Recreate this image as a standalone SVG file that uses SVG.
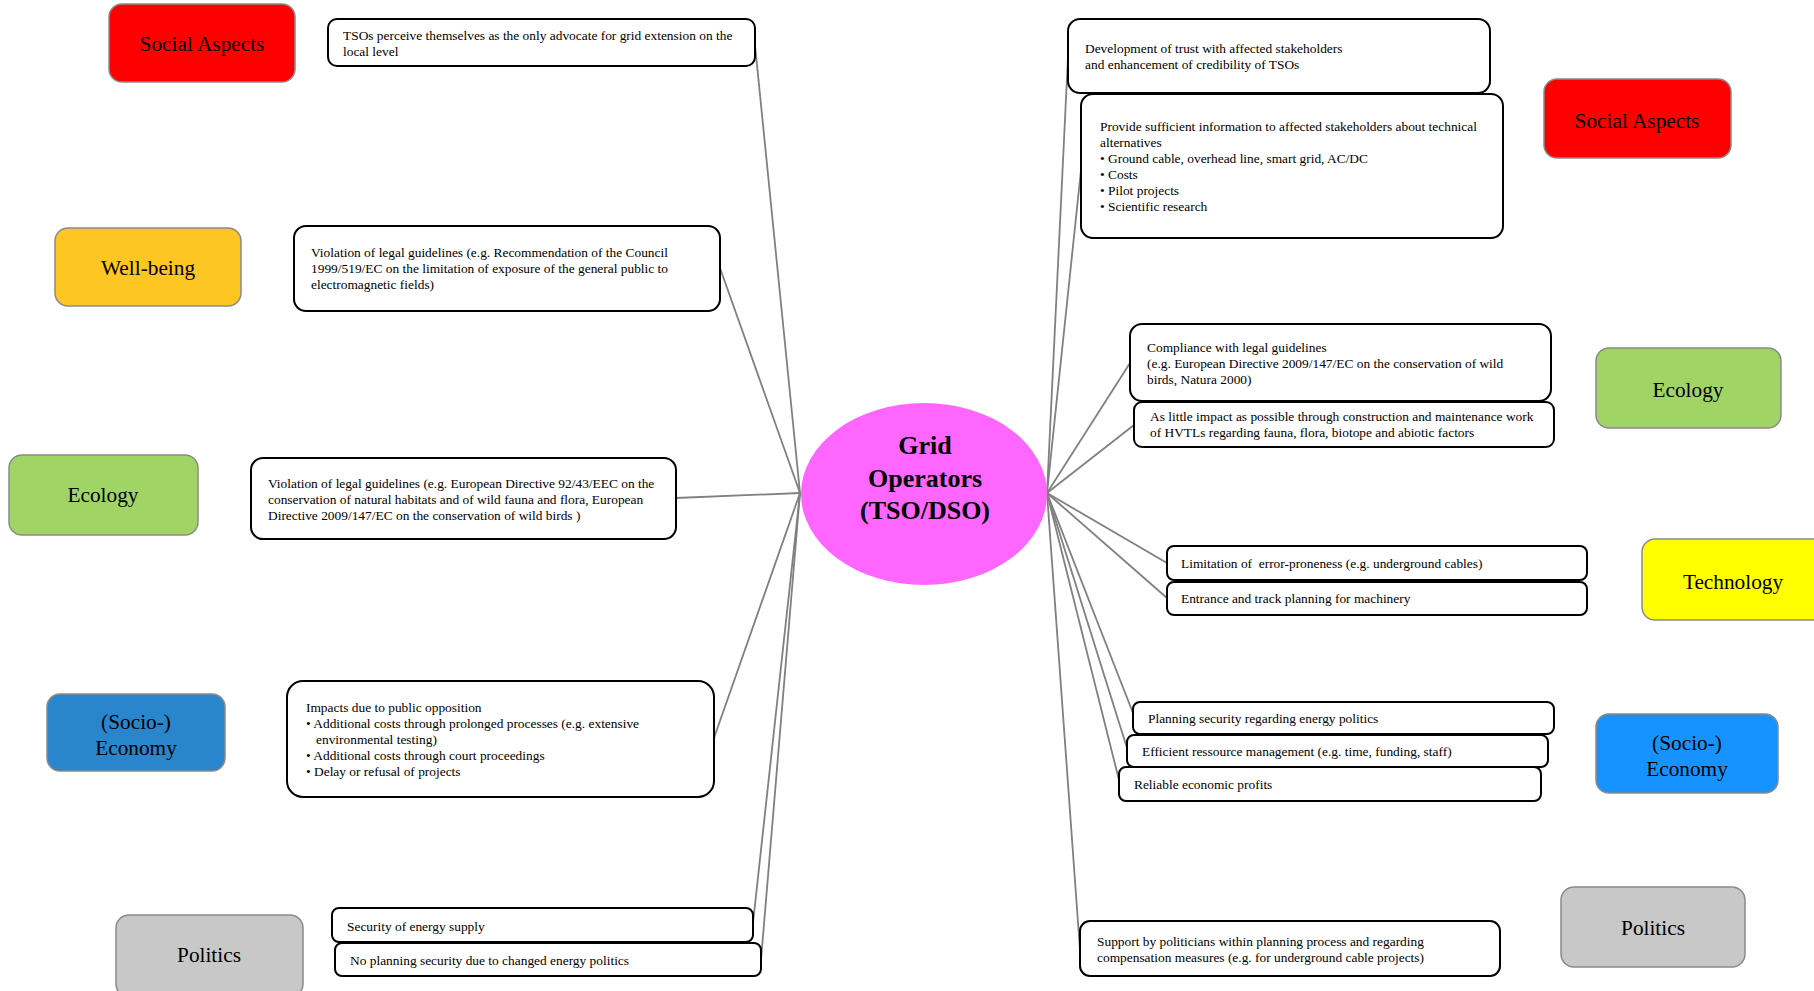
<svg xmlns="http://www.w3.org/2000/svg" width="1814" height="991" viewBox="0 0 1814 991">
<style>
.cat{stroke:#8a8a8a;stroke-width:1.5}
.ct{font-family:"Liberation Serif","Times New Roman",serif;font-size:21.3px;fill:#000;text-anchor:middle}
.box{fill:#fff;stroke:#000;stroke-width:2}
.t{font-family:"Liberation Serif","Times New Roman",serif;font-size:13.4px;fill:#000}
.hub{font-family:"Liberation Serif","Times New Roman",serif;font-size:26px;font-weight:bold;fill:#000;text-anchor:middle}
#connectors line{stroke:#808080;stroke-width:1.8}
</style>
<rect width="1814" height="991" fill="#fff"/>
<g id="connectors">
<line x1="800" y1="493" x2="755" y2="45"/>
<line x1="800" y1="493" x2="720" y2="268"/>
<line x1="800" y1="493" x2="676" y2="498"/>
<line x1="800" y1="493" x2="714" y2="738"/>
<line x1="800" y1="493" x2="753" y2="923"/>
<line x1="800" y1="493" x2="761" y2="960"/>
<line x1="1047" y1="493" x2="1068" y2="57"/>
<line x1="1047" y1="493" x2="1081" y2="170"/>
<line x1="1047" y1="493" x2="1130" y2="363"/>
<line x1="1047" y1="493" x2="1134" y2="425"/>
<line x1="1047" y1="493" x2="1167" y2="563"/>
<line x1="1047" y1="493" x2="1167" y2="598"/>
<line x1="1047" y1="493" x2="1133" y2="713"/>
<line x1="1047" y1="493" x2="1127" y2="748"/>
<line x1="1047" y1="493" x2="1119" y2="780"/>
<line x1="1047" y1="493" x2="1080" y2="950"/>
</g>
<g id="hub">
<ellipse cx="924" cy="494" rx="123" ry="91" fill="#ff66ff"/>
<text class="hub" x="925" y="454">Grid</text>
<text class="hub" x="925" y="487">Operators</text>
<text class="hub" x="925" y="519">(TSO/DSO)</text>
</g>
<g id="cat-social-left"><rect class="cat" x="109" y="4" width="186" height="78" rx="13" fill="#ff0000"/><text class="ct" x="202" y="51">Social Aspects</text></g>
<g id="cat-wellbeing"><rect class="cat" x="55" y="228" width="186" height="78" rx="13" fill="#fdc623"/><text class="ct" x="148" y="275">Well-being</text></g>
<g id="cat-ecology-left"><rect class="cat" x="9" y="455" width="189" height="80" rx="13" fill="#a0d566"/><text class="ct" x="103" y="502">Ecology</text></g>
<g id="cat-economy-left"><rect class="cat" x="47" y="694" width="178" height="77" rx="13" fill="#2a86cc"/><text class="ct" x="136" y="729">(Socio-)</text><text class="ct" x="136" y="755">Economy</text></g>
<g id="cat-politics-left"><rect class="cat" x="116" y="915" width="187" height="82" rx="13" fill="#c8c8c8"/><text class="ct" x="209" y="962">Politics</text></g>
<g id="cat-social-right"><rect class="cat" x="1544" y="79" width="187" height="79" rx="13" fill="#ff0000"/><text class="ct" x="1637" y="128">Social Aspects</text></g>
<g id="cat-ecology-right"><rect class="cat" x="1596" y="348" width="185" height="80" rx="13" fill="#a0d566"/><text class="ct" x="1688" y="397">Ecology</text></g>
<g id="cat-technology"><rect class="cat" x="1642" y="539" width="190" height="81" rx="13" fill="#ffff00"/><text class="ct" x="1733" y="589">Technology</text></g>
<g id="cat-economy-right"><rect class="cat" x="1596" y="714" width="182" height="79" rx="13" fill="#1693ff"/><text class="ct" x="1687" y="750">(Socio-)</text><text class="ct" x="1687" y="776">Economy</text></g>
<g id="cat-politics-right"><rect class="cat" x="1561" y="887" width="184" height="80" rx="13" fill="#c8c8c8"/><text class="ct" x="1653" y="935">Politics</text></g>
<g id="n-tsos"><rect class="box" x="328" y="19" width="427" height="47" rx="9"/><text class="t" x="343" y="40">TSOs perceive themselves as the only advocate for grid extension on the</text><text class="t" x="343" y="56">local level</text></g>
<g id="n-wellbeing"><rect class="box" x="294" y="226" width="426" height="85" rx="12"/><text class="t" x="311" y="257">Violation of legal guidelines (e.g. Recommendation of the Council</text><text class="t" x="311" y="273">1999/519/EC on the limitation of exposure of the general public to</text><text class="t" x="311" y="289">electromagnetic fields)</text></g>
<g id="n-ecology-left"><rect class="box" x="251" y="458" width="425" height="81" rx="12"/><text class="t" x="268" y="488">Violation of legal guidelines (e.g. European Directive 92/43/EEC on the</text><text class="t" x="268" y="504">conservation of natural habitats and of wild fauna and flora, European</text><text class="t" x="268" y="520">Directive 2009/147/EC on the conservation of wild birds )</text></g>
<g id="n-economy-left"><rect class="box" x="287" y="681" width="427" height="116" rx="16"/><text class="t" x="306" y="712">Impacts due to public opposition</text><text class="t" x="306" y="728">• Additional costs through prolonged processes (e.g. extensive</text><text class="t" x="316" y="744">environmental testing)</text><text class="t" x="306" y="760">• Additional costs through court proceedings</text><text class="t" x="306" y="776">• Delay or refusal of projects</text></g>
<g id="n-security"><rect class="box" x="332" y="908" width="421" height="34" rx="7"/><text class="t" x="347" y="931">Security of energy supply</text></g>
<g id="n-noplanning"><rect class="box" x="335" y="943" width="426" height="33" rx="7"/><text class="t" x="350" y="965">No planning security due to changed energy politics</text></g>
<g id="n-trust"><rect class="box" x="1068" y="19" width="422" height="74" rx="12"/><text class="t" x="1085" y="53">Development of trust with affected stakeholders</text><text class="t" x="1085" y="69">and enhancement of credibility of TSOs</text></g>
<g id="n-provide"><rect class="box" x="1081" y="94" width="422" height="144" rx="12"/><text class="t" x="1100" y="131">Provide sufficient information to affected stakeholders about technical</text><text class="t" x="1100" y="147">alternatives</text><text class="t" x="1100" y="163">• Ground cable, overhead line, smart grid, AC/DC</text><text class="t" x="1100" y="179">• Costs</text><text class="t" x="1100" y="195">• Pilot projects</text><text class="t" x="1100" y="211">• Scientific research</text></g>
<g id="n-compliance"><rect class="box" x="1130" y="324" width="421" height="77" rx="12"/><text class="t" x="1147" y="352">Compliance with legal guidelines</text><text class="t" x="1147" y="368">(e.g. European Directive 2009/147/EC on the conservation of wild</text><text class="t" x="1147" y="384">birds, Natura 2000)</text></g>
<g id="n-impact"><rect class="box" x="1134" y="402" width="420" height="45" rx="8"/><text class="t" x="1150" y="421">As little impact as possible through construction and maintenance work</text><text class="t" x="1150" y="437">of HVTLs regarding fauna, flora, biotope and abiotic factors</text></g>
<g id="n-limitation"><rect class="box" x="1167" y="546" width="420" height="34" rx="7"/><text class="t" x="1181" y="568" style="white-space:pre">Limitation of  error-proneness (e.g. underground cables)</text></g>
<g id="n-entrance"><rect class="box" x="1167" y="582" width="420" height="33" rx="7"/><text class="t" x="1181" y="603">Entrance and track planning for machinery</text></g>
<g id="n-planning"><rect class="box" x="1133" y="702" width="421" height="32" rx="7"/><text class="t" x="1148" y="723">Planning security regarding energy politics</text></g>
<g id="n-efficient"><rect class="box" x="1127" y="735" width="421" height="32" rx="7"/><text class="t" x="1142" y="756">Efficient ressource management (e.g. time, funding, staff)</text></g>
<g id="n-reliable"><rect class="box" x="1119" y="767" width="422" height="34" rx="7"/><text class="t" x="1134" y="789">Reliable economic profits</text></g>
<g id="n-support"><rect class="box" x="1080" y="921" width="420" height="55" rx="10"/><text class="t" x="1097" y="946">Support by politicians within planning process and regarding</text><text class="t" x="1097" y="962">compensation measures (e.g. for underground cable projects)</text></g>
</svg>
